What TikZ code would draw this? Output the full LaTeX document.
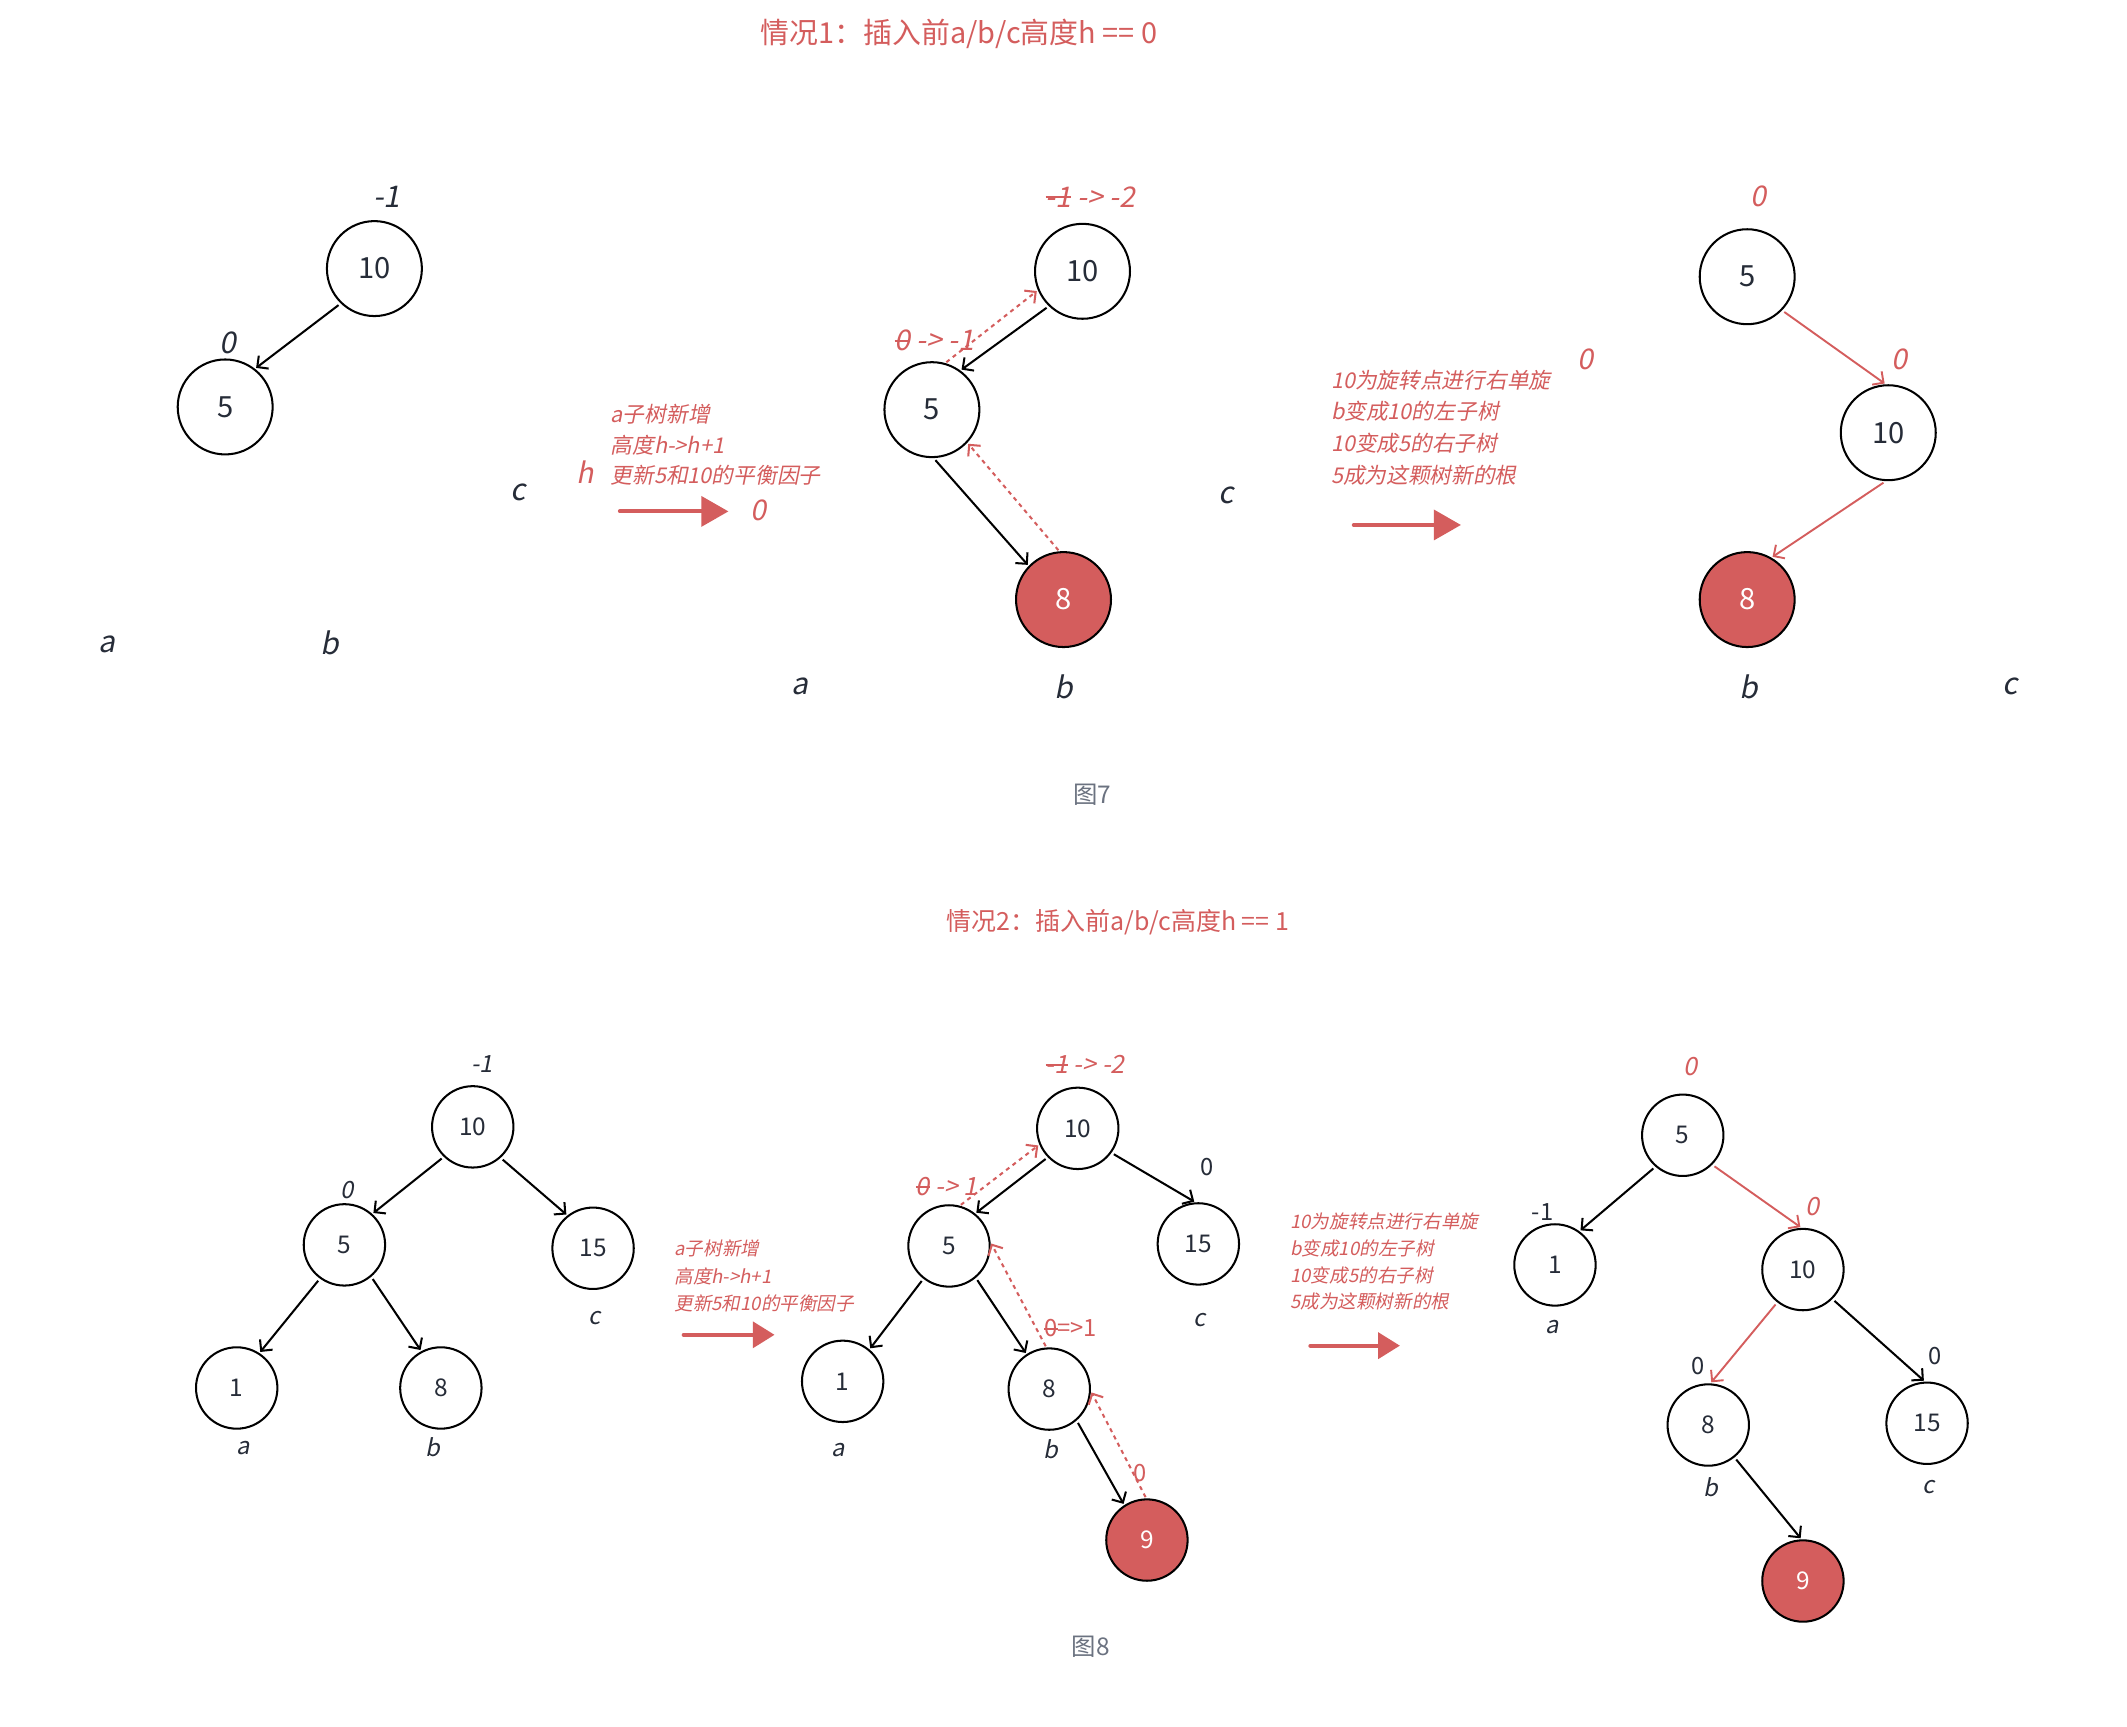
\documentclass[tikz,border=0pt]{standalone}
\usepackage{fontspec}
\setmainfont{Noto Sans CJK SC}
\newfontfamily\itf[FakeSlant=0.2]{Noto Sans CJK SC}
\usetikzlibrary{arrows.meta}
\definecolor{myred}{HTML}{D45D5D}
\definecolor{ink}{HTML}{262C38}
\definecolor{capgray}{HTML}{6B7280}
\newsavebox{\strkbox}
\newcommand{\strk}[1]{\sbox{\strkbox}{#1}\rlap{\rule[0.3em]{\wd\strkbox}{0.07em}}\usebox{\strkbox}}
\newcommand{\setfs}[1]{\fontsize{#1}{#1}\selectfont}
\tikzset{
  bignode/.style={circle, draw=black, line width=1.5pt, minimum size=70pt, inner sep=0pt, text=ink, font=\setfs{21.5}},
  smallnode/.style={circle, draw=black, line width=1.5pt, minimum size=60pt, inner sep=0pt, text=ink, font=\setfs{18}},
  rednode/.style={fill=myred, text=white},
  edge/.style={draw=black, line width=1.5pt, -{Straight Barb[length=6pt,width=12pt]}, shorten <=2pt, shorten >=1pt},
  redge/.style={draw=myred, line width=1.4pt, -{Straight Barb[length=6pt,width=12pt]}, shorten <=2pt, shorten >=1pt},
  dedge/.style={draw=myred, line width=1.5pt, dash pattern=on 3pt off 3pt, -{Straight Barb[length=6pt,width=12pt]}, shorten <=1pt, shorten >=1pt},
  bigarrow/.style={draw=myred, line width=3pt, line cap=round, -{Triangle[length=20pt,width=22pt]}},
  smallarrow/.style={draw=myred, line width=3pt, line cap=round, -{Triangle[length=16pt,width=19pt]}},
  lblA/.style={inner sep=0pt, text=ink, font=\itf\setfs{22}},
  rlblA/.style={inner sep=0pt, text=myred, font=\itf\setfs{21}},
  lblB/.style={inner sep=0pt, text=ink, font=\itf\setfs{17.5}},
  rlblB/.style={inner sep=0pt, text=myred, font=\itf\setfs{18.5}},
  ulblB/.style={inner sep=0pt, text=ink, font=\setfs{17.5}},
  urlblB/.style={inner sep=0pt, text=myred, font=\setfs{17.5}},
  noteA/.style={inner sep=0pt, anchor=west, text=myred, font=\itf\setfs{16}},
  noteB/.style={inner sep=0pt, anchor=west, text=myred, font=\itf\setfs{13.7}},
  titleA/.style={inner sep=0pt, text=myred, font=\setfs{21.3}},
  titleB/.style={inner sep=0pt, text=myred, font=\setfs{18.4}},
  caption/.style={inner sep=0pt, text=capgray, font=\setfs{18}},
}
\begin{document}
\begin{tikzpicture}[x=1pt,y=-1pt]
\useasboundingbox (0,0) rectangle (1568,1273);
\fill[white] (0,0) rectangle (1568,1273);

% ---------------- Figure 7 ----------------
\node[titleA] (t1) at (707,25) {情况1：插入前a/b/c高度h == 0};

% tree 1
\node[bignode] (A10) at (276,198) {10};
\node[bignode] (A5) at (166,300) {5};
\node[lblA] (A10l) at (285,145) {-1};
\node[lblA] (A5l) at (168,253) {0};
\node[lblA] (Ac) at (382,363) {c};
\node[lblA] (Aa) at (79,475) {a};
\node[lblA] (Ab) at (243,474) {b};
\draw[edge] (A10.226) -- (A5.52);

% note 1
\node[noteA] (N1a) at (450,305) {a子树新增};
\node[noteA] (N1b) at (450,328) {高度h->h+1};
\node[noteA] (N1c) at (450,350) {更新5和10的平衡因子};
\node[rlblA] (N1h) at (431,348) {h};
\node[rlblA] (N1z) at (559,376) {0};
\coordinate (P1s) at (457,377);
\coordinate (P1e) at (537,377);
\draw[bigarrow] (P1s) -- (P1e);

% tree 2
\node[bignode] (B10) at (798,200) {10};
\node[bignode] (B5) at (687,302) {5};
\node[bignode, rednode] (B8) at (784,442) {8};
\node[rlblA] (B10l) at (804,145) {\strk{-1} -> -2};
\node[rlblA] (B5l) at (689,251) {\strk{0} -> -1};
\node[lblA] (Ba) at (590,506) {a};
\node[lblA] (Bb) at (784,506) {b};
\node[lblA] (Bc) at (904,365) {c};
\draw[edge] (B10.226) -- (B5.54);
\draw[edge] (B5.272) -- (B8.136);
\draw[dedge] (B8.95) -- (B5.-43);
\draw[dedge] (B5.74) -- (B10.203);

% note 2
\node[noteA] (N2a) at (981,280) {10为旋转点进行右单旋};
\node[noteA] (N2b) at (981,303) {b变成10的左子树};
\node[noteA] (N2c) at (981,327) {10变成5的右子树};
\node[noteA] (N2d) at (981,350) {5成为这颗树新的根};
\node[rlblA] (N2z) at (1169,265) {0};
\coordinate (P2s) at (998,387);
\coordinate (P2e) at (1077,387);
\draw[bigarrow] (P2s) -- (P2e);

% tree 3
\node[bignode] (C5) at (1288,204) {5};
\node[bignode] (C10) at (1392,319) {10};
\node[bignode, rednode] (C8) at (1288,442) {8};
\node[rlblA] (C5l) at (1296,145) {0};
\node[rlblA] (C10l) at (1400,265) {0};
\node[lblA] (Cb) at (1289,506) {b};
\node[lblA] (Cc) at (1482,506) {c};
\draw[redge] (C5.-44) -- (C10.93);
\draw[redge] (C10.267) -- (C8.60);

\node[caption] (cap7) at (805,586) {图7};

% ---------------- Figure 8 ----------------
\node[titleB] (t2) at (824,680) {情况2：插入前a/b/c高度h == 1};

% tree 4
\node[smallnode] (D10) at (348.5,830.7) {10};
\node[smallnode] (D5) at (253.9,917.7) {5};
\node[smallnode] (D15) at (437.2,920.2) {15};
\node[smallnode] (D1) at (174.5,1023.2) {1};
\node[smallnode] (D8) at (325,1023.2) {8};
\node[lblB] (D10l) at (355.5,784.5) {-1};
\node[lblB] (D5l) at (256.2,877.3) {0};
\node[lblB] (Dc) at (438.4,972) {c};
\node[lblB] (Da) at (179.2,1067.7) {a};
\node[lblB] (Db) at (319.1,1067) {b};
\draw[edge] (D10.226) -- (D5.48);
\draw[edge] (D10.-48) -- (D15.128);
\draw[edge] (D5.234) -- (D1.57);
\draw[edge] (D5.-50) -- (D8.118);

% note 3
\node[noteB] (N3a) at (497,920.6) {a子树新增};
\node[noteB] (N3b) at (497,940.8) {高度h->h+1};
\node[noteB] (N3c) at (497,960.6) {更新5和10的平衡因子};
\coordinate (P3s) at (504,984);
\coordinate (P3e) at (571,984);
\draw[smallarrow] (P3s) -- (P3e);

% tree 5
\node[smallnode] (E10) at (794.5,831.8) {10};
\node[smallnode] (E5) at (699.6,918.5) {5};
\node[smallnode] (E15) at (883.4,917) {15};
\node[smallnode] (E1) at (621.2,1018.3) {1};
\node[smallnode] (E8) at (773.5,1024) {8};
\node[smallnode, rednode] (E9) at (845.5,1135.3) {9};
\node[rlblB] (E10l) at (800,784.4) {\strk{-1} -> -2};
\node[rlblB] (E5l) at (698,874.8) {\strk{0} -> 1};
\node[ulblB] (E15l) at (889.6,860) {0};
\node[lblB] (Ec) at (884,973) {c};
\node[lblB] (Ea) at (618.2,1068.6) {a};
\node[lblB] (Eb) at (774.6,1068.4) {b};
\node[urlblB] (E8l) at (789.3,979.2) {\strk{0}=>1};
\node[urlblB] (E9l) at (840.4,1085.6) {0};
\draw[edge] (E10.224) -- (E5.51);
\draw[edge] (E10.-36) -- (E15.94);
\draw[edge] (E5.232) -- (E1.50);
\draw[edge] (E5.-50) -- (E8.123);
\draw[edge] (E8.-49) -- (E9.123);
\draw[dedge] (E5.75) -- (E10.203);
\draw[dedge] (E8.94) -- (E5.5);
\draw[dedge] (E9.91) -- (E8.-3);

% note 4
\node[noteB] (N4a) at (951,900.8) {10为旋转点进行右单旋};
\node[noteB] (N4b) at (951,920.6) {b变成10的左子树};
\node[noteB] (N4c) at (951,939.9) {10变成5的右子树};
\node[noteB] (N4d) at (951,959.7) {5成为这颗树新的根};
\coordinate (P4s) at (966,992);
\coordinate (P4e) at (1032,992);
\draw[smallarrow] (P4s) -- (P4e);

% tree 6
\node[smallnode] (F5) at (1240.5,836.9) {5};
\node[smallnode] (F1) at (1146.3,932.5) {1};
\node[smallnode] (F10) at (1329.1,935.9) {10};
\node[smallnode] (F8) at (1259.3,1050.5) {8};
\node[smallnode] (F15) at (1420.6,1049.2) {15};
\node[smallnode, rednode] (F9) at (1329.1,1165.5) {9};
\node[rlblB] (F5l) at (1246.4,786.6) {0};
\node[ulblB] (F1l) at (1137.1,893.8) {-1};
\node[lblB] (Fa) at (1144,978) {a};
\node[rlblB] (F10l) at (1336,889.6) {0};
\node[ulblB] (F8l) at (1252,1006.8) {0};
\node[lblB] (Fb) at (1261,1096) {b};
\node[ulblB] (F15l) at (1426.5,999.6) {0};
\node[lblB] (Fc) at (1422,1096) {c};
\draw[edge] (F5.229) -- (F1.54);
\draw[redge] (F5.-45) -- (F10.92);
\draw[redge] (F10.232) -- (F8.87);
\draw[edge] (F10.-45) -- (F15.93);
\draw[edge] (F8.-51) -- (F9.92);

\node[caption] (cap8) at (804,1214) {图8};
\end{tikzpicture}
\end{document}
